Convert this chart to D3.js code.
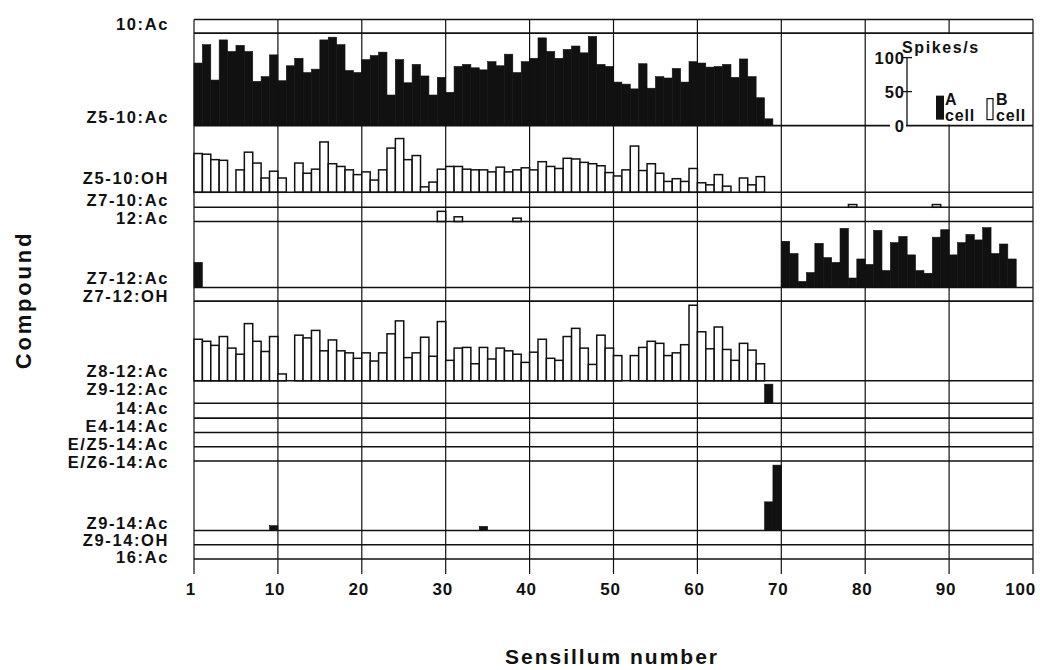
<!DOCTYPE html>
<html>
<head>
<meta charset="utf-8">
<script src="https://cdn.jsdelivr.net/npm/d3@7"></script>
<style>
  html, body { margin: 0; padding: 0; background: #fff; }
  svg { display: block; font-family: "Liberation Sans", Arial, sans-serif; font-weight: bold; }
</style>
</head>
<body>
<svg id="chart" width="1040" height="670"></svg>
<script>
// rows of the figure, top to bottom
var compounds = ["10:Ac", "Z5-10:Ac", "Z5-10:OH", "Z7-10:Ac", "12:Ac", "Z7-12:Ac", "Z7-12:OH",
  "Z8-12:Ac", "Z9-12:Ac", "14:Ac", "E4-14:Ac", "E/Z5-14:Ac", "E/Z6-14:Ac", "Z9-14:Ac", "Z9-14:OH", "16:Ac"];
// response range (spikes/s) that each row has room for
var rowMax = [20, 136, 98, 22, 21, 97, 20, 117, 33, 22, 21, 21, 21, 102, 21, 21];

var xTicks = [0, 10, 20, 30, 40, 50, 60, 70, 80, 90, 100];
var xTickLabels = ["1", "10", "20", "30", "40", "50", "60", "70", "80", "90", "100"];
var legendTicks = [0, 50, 100];

// spikes/s, sensilla 1-69
var aZ5_10Ac = [92, 119, 67, 126, 109, 118, 109, 65, 72, 104,
  66, 88, 99, 78, 83, 126, 130, 119, 81, 78,
  97, 103, 108, 45, 97, 63, 90, 73, 45, 71,
  49, 87, 90, 85, 82, 94, 88, 105, 78, 94,
  99, 129, 109, 99, 112, 117, 107, 131, 90, 87,
  64, 61, 54, 91, 55, 72, 70, 84, 64, 94,
  92, 86, 87, 90, 71, 98, 72, 41, 10];
var bZ5_10OH = [57, 56, 48, 47, 0, 33, 59, 43, 21, 31,
  21, 0, 43, 28, 34, 74, 42, 38, 33, 26,
  30, 18, 33, 65, 79, 48, 54, 8, 15, 34,
  38, 38, 34, 33, 33, 30, 37, 30, 33, 36,
  33, 45, 38, 35, 50, 49, 44, 42, 39, 29,
  24, 33, 68, 32, 42, 28, 16, 20, 16, 35,
  14, 11, 26, 9, 0, 21, 11, 23, 0];
var bZ8_12Ac = [61, 58, 52, 65, 48, 39, 84, 58, 43, 65,
  10, 0, 67, 63, 74, 44, 60, 44, 41, 33,
  41, 29, 41, 69, 88, 34, 41, 64, 36, 87,
  30, 48, 49, 25, 49, 32, 48, 44, 39, 27,
  42, 61, 33, 30, 65, 77, 48, 24, 67, 48,
  37, 0, 37, 49, 58, 55, 37, 41, 53, 111,
  72, 47, 79, 46, 30, 55, 45, 25, 0];
// sensilla 71-98
var aZ7_12AcRight = [68, 50, 9, 22, 65, 44, 37, 87, 14, 42,
  34, 84, 25, 66, 75, 48, 25, 21, 74, 85,
  48, 66, 78, 70, 88, 50, 64, 42];
// [sensillum, spikes/s]
var aZ7_12AcLeft = [[1, 37]];
var bZ7_10Ac = [[79, 4], [89, 4]];
var b12Ac = [[30, 15], [32, 7], [39, 5]];
var aZ9_12Ac = [[69, 28]];
var aZ9_14Ac = [[10, 7], [35, 6], [69, 42], [70, 96]];

function run(first, values) {
  return values.map(function(v, i) { return [first + i, v]; });
}

var series = [
  { row: "Z5-10:Ac", cell: "A", data: run(1, aZ5_10Ac) },
  { row: "Z5-10:OH", cell: "B", data: run(1, bZ5_10OH) },
  { row: "Z7-10:Ac", cell: "B", data: bZ7_10Ac },
  { row: "12:Ac", cell: "B", data: b12Ac },
  { row: "Z7-12:Ac", cell: "A", data: aZ7_12AcLeft.concat(run(71, aZ7_12AcRight)) },
  { row: "Z8-12:Ac", cell: "B", data: run(1, bZ8_12Ac) },
  { row: "Z9-12:Ac", cell: "A", data: aZ9_12Ac },
  { row: "Z9-14:Ac", cell: "A", data: aZ9_14Ac }
];

// label centres as they sit in the figure (not aligned exactly with rows)
var labelCenterY = [24, 117, 178, 200, 218, 278, 296, 371, 389, 408, 426, 444, 462, 523, 540, 557];

var X0 = 194, X1 = 1033, Y0 = 19.5, Y1 = 559;
var ink = "#111";

var svg = d3.select("#chart");
var x = d3.scaleLinear().domain([0, 100]).range([X0, X1]);

var k = (Y1 - Y0) / d3.sum(rowMax);
var rows = [], acc = Y0;
compounds.forEach(function(c, i) {
  var top = acc, bottom = acc + rowMax[i] * k;
  rows.push({ name: c, top: top, bottom: bottom,
    y: d3.scaleLinear().domain([0, rowMax[i]]).range([bottom, top]) });
  acc = bottom;
});
var rowByName = {};
rows.forEach(function(r) { rowByName[r.name] = r; });

// vertical grid lines, running down into the axis ticks
svg.append("g").selectAll("line").data(xTicks).join("line")
  .attr("x1", function(d) { return x(d); }).attr("x2", function(d) { return x(d); })
  .attr("y1", Y0).attr("y2", Y1 + 15)
  .attr("stroke", ink).attr("stroke-width", 1.2);

// bars
series.forEach(function(s) {
  var r = rowByName[s.row];
  svg.append("g").selectAll("rect").data(s.data.filter(function(d) { return d[1] > 0; })).join("rect")
    .attr("x", function(d) { return x(d[0] - 1); })
    .attr("width", function(d) { return x(d[0]) - x(d[0] - 1); })
    .attr("y", function(d) { return r.y(d[1]); })
    .attr("height", function(d) { return r.bottom - r.y(d[1]); })
    .attr("fill", s.cell === "A" ? ink : "#fff")
    .attr("stroke", ink)
    .attr("stroke-width", s.cell === "A" ? 0.6 : 1.5);
});

// legend panel sits on top of the Z5-10:Ac row
var lr = rowByName["Z5-10:Ac"];
var lx = 907;
var ly = d3.scaleLinear().domain([0, 100]).range([lr.bottom, lr.bottom - 100 * k]);
svg.append("rect").attr("x", 889).attr("y", lr.top + 1)
  .attr("width", X1 - 889 - 1).attr("height", lr.bottom - lr.top - 2).attr("fill", "#fff");

// row separators
svg.append("g").selectAll("line").data([Y0].concat(rows.map(function(r) { return r.bottom; }))).join("line")
  .attr("x1", X0).attr("x2", X1)
  .attr("y1", function(d) { return d; }).attr("y2", function(d) { return d; })
  .attr("stroke", ink).attr("stroke-width", 1.6);

// legend scale
var lg = svg.append("g").attr("fill", ink).attr("font-size", 16.5);
lg.append("line").attr("x1", lx).attr("x2", lx).attr("y1", ly(0)).attr("y2", ly(100))
  .attr("stroke", ink).attr("stroke-width", 1.3);
lg.selectAll(".lt").data(legendTicks.slice(1)).join("line")
  .attr("x1", lx - 5).attr("x2", lx + 5)
  .attr("y1", function(d) { return ly(d); }).attr("y2", function(d) { return ly(d); })
  .attr("stroke", ink).attr("stroke-width", 1.3);
lg.append("rect").attr("x", lx - 17).attr("y", ly(0) - 7).attr("width", 16).attr("height", 14).attr("fill", "#fff");
lg.selectAll("text.lv").data(legendTicks).join("text")
  .attr("class", "lv")
  .attr("x", lx - 2).attr("y", function(d) { return ly(d) + 6; })
  .attr("text-anchor", "end").attr("letter-spacing", 1)
  .text(function(d) { return d; });
lg.append("text").attr("x", lx - 5).attr("y", ly(100) - 5).attr("font-size", 16)
  .attr("letter-spacing", 1.6).text("Spikes/s");
lg.append("rect").attr("x", lx + 29).attr("y", ly(0) - 30).attr("width", 8).attr("height", 24).attr("fill", ink);
lg.append("rect").attr("x", lx + 80).attr("y", ly(0) - 27).attr("width", 6).attr("height", 21)
  .attr("fill", "#fff").attr("stroke", ink).attr("stroke-width", 1.2);
[["A", lx + 38], ["B", lx + 89]].forEach(function(p) {
  lg.append("text").attr("x", p[1]).attr("y", ly(0) - 21).attr("font-size", 16).text(p[0]);
  lg.append("text").attr("x", p[1]).attr("y", ly(0) - 5).attr("font-size", 16)
    .attr("letter-spacing", 0.8).text("cell");
});

// compound labels
svg.append("g").selectAll("text").data(compounds).join("text")
  .attr("x", 169).attr("y", function(d, i) { return labelCenterY[i] + 6; })
  .attr("text-anchor", "end").attr("font-size", 16.5).attr("letter-spacing", 1.6)
  .attr("fill", ink).text(function(d) { return d; });

// x tick labels (drawn a little left of their ticks, as in the figure)
svg.append("g").selectAll("text").data(xTicks).join("text")
  .attr("x", function(d) { return d === 100 ? 1036 : x(d) - 3; }).attr("y", Y1 + 36)
  .attr("text-anchor", function(d) { return d === 100 ? "end" : "middle"; })
  .attr("font-size", 17).attr("letter-spacing", 0.8)
  .attr("fill", ink).text(function(d, i) { return xTickLabels[i]; });

// axis titles
svg.append("text").attr("x", 612).attr("y", 664).attr("text-anchor", "middle")
  .attr("font-size", 21).attr("letter-spacing", 2).attr("fill", ink).text("Sensillum number");
svg.append("text").attr("transform", "translate(31,300) rotate(-90)").attr("text-anchor", "middle")
  .attr("font-size", 22).attr("letter-spacing", 2.8).attr("fill", ink).text("Compound");
</script>
</body>
</html>
